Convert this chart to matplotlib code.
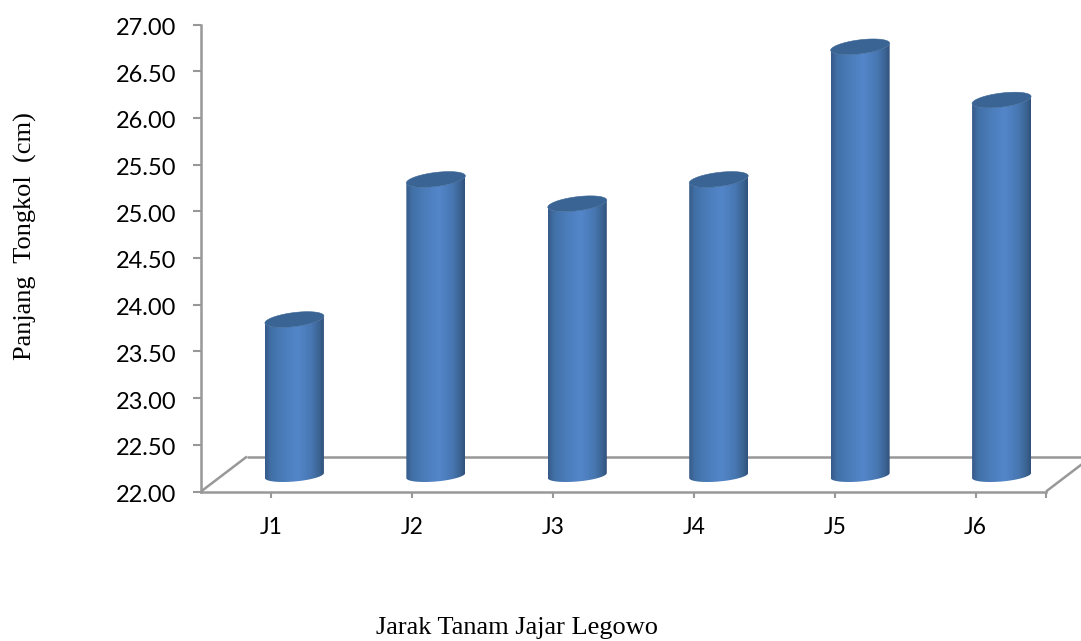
import numpy as np
import matplotlib
matplotlib.use('Agg')
import matplotlib.pyplot as plt
from matplotlib.colors import LinearSegmentedColormap
from matplotlib.patches import PathPatch
from matplotlib.path import Path
from matplotlib.transforms import ScaledTranslation

categories = ['J1', 'J2', 'J3', 'J4', 'J5', 'J6']
values = [23.67, 25.17, 24.91, 25.17, 26.59, 26.02]
y_ticks = [22.0, 22.5, 23.0, 23.5, 24.0, 24.5, 25.0, 25.5, 26.0, 26.5, 27.0]

W, H = 1081, 641
AX_L, AX_R, AX_B, AX_T = 201, 1046, 491.5, 24.5
GREY = '#989898'

fig = plt.figure(figsize=(W / 100, H / 100), dpi=100)
ax = fig.add_axes([AX_L / W, 1 - AX_B / H, (AX_R - AX_L) / W, (AX_B - AX_T) / H])

# px per data unit, the fake 3d depth is given in px
sx = (AX_R - AX_L) / 6.0
sy = (AX_B - AX_T) / 5.0
xlim = (-0.5, 5.5)
ylim = (22.0, 27.0)

# floor
depth_x, depth_y = 46 / sx, 35 / sy
floor_col = dict(color=GREY, lw=1.8, clip_on=False, zorder=1, solid_capstyle='butt')
ax.plot([-0.5, -0.5 + depth_x], [22, 22 + depth_y], **floor_col)
ax.plot([-0.5 + depth_x, 5.5 + 35 / sx], [22 + depth_y, 22 + depth_y], **floor_col)
ax.plot([5.5, 5.5 + depth_x], [22, 22 + depth_y], **floor_col)

cmap = LinearSegmentedColormap.from_list('cyl', [
    (0.0, '#365a88'), (0.1, '#4170a6'), (0.3, '#4a7cb9'), (0.55, '#5386ca'),
    (0.78, '#4878b3'), (0.92, '#3c6493'), (1.0, '#30517b')])
grad = np.linspace(0, 1, 256).reshape(1, -1)

half = 29.5 / sx
shift = 23 / sx
step = 0.6 / sx  # bars sit a bit wider apart than the ticks
lift = 16 / sy  # bars stand in the middle of the floor
t_low = np.linspace(np.pi, 2 * np.pi, 40)
t_all = np.linspace(0, 2 * np.pi, 80)


def ellipse(xc, yc, t, b_px, s_px):
    xs = xc + half * np.cos(t)
    ys = yc + (b_px * np.sin(t) + s_px * np.cos(t)) / sy
    return xs, ys


for i, v in enumerate(values):
    xc = i + shift + i * step
    bx, by = ellipse(xc, 22 + lift, t_low, 6.0, 2.5)
    tx, ty = ellipse(xc, v + lift, t_low[::-1], 7.0, 3.5)
    pts = np.column_stack([np.r_[bx, tx], np.r_[by, ty]])
    body = PathPatch(Path(np.vstack([pts, pts[0]]), closed=True), fc='none', ec='none',
                     transform=ax.transData)
    ax.add_patch(body)
    im = ax.imshow(grad, cmap=cmap, aspect='auto', zorder=3, interpolation='bilinear',
                   extent=(xc - half, xc + half, 22, 27.2))
    im.set_clip_path(body)
    ex, ey = ellipse(xc, v + lift, t_all, 7.0, 3.5)
    ax.fill(ex, ey, color='#3a6494', zorder=4, clip_on=False, lw=0.4)

ax.set_xlim(*xlim)
ax.set_ylim(*ylim)

for side in ['top', 'right']:
    ax.spines[side].set_visible(False)
for side in ['left', 'bottom']:
    ax.spines[side].set_color(GREY)
    ax.spines[side].set_linewidth(1.8)

ax.set_yticks(y_ticks)
ax.set_yticklabels(['%.2f' % t for t in y_ticks], fontfamily='Lato', fontsize=17, color='black')
ax.set_xticks(list(range(len(categories))) + [5.5])
ax.set_xticklabels(categories + [''], fontfamily='Lato', fontsize=16.5, color='black')
ax.tick_params(axis='y', length=5.8, width=1.5, color=GREY, pad=12)
ax.tick_params(axis='x', length=4.3, width=1.5, color=GREY, pad=14)

# labels sit 2 px under their ticks
down = ScaledTranslation(0, -2 / 100, fig.dpi_scale_trans)
for lab in ax.get_yticklabels():
    lab.set_transform(lab.get_transform() + down)

fig.text(517 / W, 1 - 628 / H, 'Jarak Tanam Jajar Legowo', family='Liberation Serif',
         fontsize=19, ha='center', va='center')
fig.text(25 / W, 1 - 236 / H, 'Panjang  Tongkol  (cm)', family='Liberation Serif',
         fontsize=19, rotation=90, ha='center', va='center')

fig.savefig('out.png', dpi=100, facecolor='white')
